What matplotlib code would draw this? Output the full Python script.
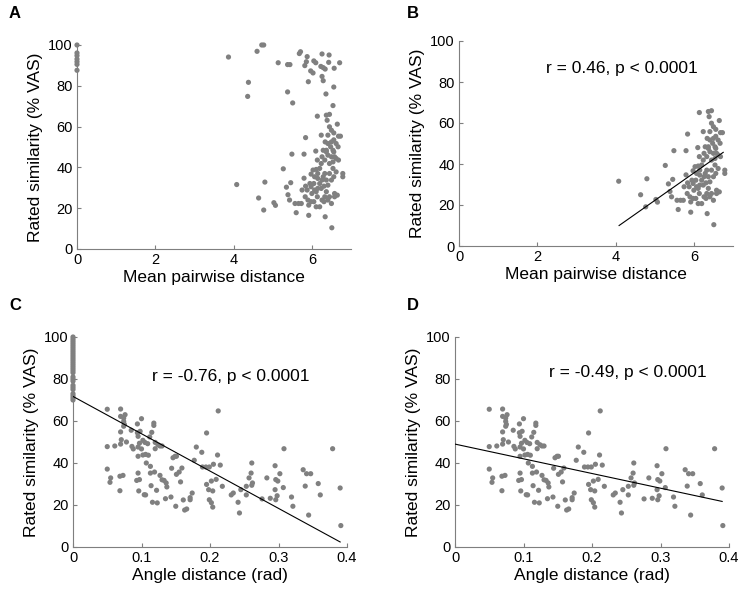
import matplotlib.pyplot as plt
import numpy as np

plt.rcParams['font.family'] = ['Liberation Sans', 'DejaVu Sans']

# ---- panel B data (mean pairwise distance vs rating) ----
dist_x = [4.08, 4.64, 4.80, 4.77, 5.03, 5.07, 5.27, 5.35, 5.49, 5.46, 5.39, 5.43,
          5.60, 5.57, 5.66, 5.73, 5.80, 5.84, 5.80, 5.75, 5.83, 5.92, 5.92, 5.98,
          5.88, 5.98, 6.00, 6.07, 6.05, 6.10, 6.14, 6.11, 6.15, 6.20, 6.14, 6.20,
          6.26, 6.24, 6.34, 6.37, 6.45, 6.39, 6.45, 6.50, 6.56, 6.65, 6.68, 6.73,
          6.41, 6.48, 6.37, 6.41, 6.50, 6.56, 6.67, 6.62, 6.54, 6.68, 6.79, 6.79,
          6.45, 6.33, 6.29, 6.37, 6.50, 6.41, 6.31, 6.37, 6.33, 6.45, 6.58, 6.56,
          6.58, 6.34, 6.51, 6.65, 6.24, 6.14, 6.03, 6.07, 6.20, 6.26, 6.33, 6.29,
          6.37, 6.54, 6.58, 6.62, 5.84, 5.90, 5.98, 6.11, 6.50, 6.41, 6.05, 5.95,
          6.15, 6.24, 6.31, 6.56, 6.50, 6.41, 6.62, 6.54, 6.45, 6.15, 6.26, 6.11]
dist_y = [31.6, 25.0, 32.8, 19.1, 22.7, 21.4, 39.3, 30.3, 46.5, 32.5, 26.6, 24.0,
          17.8, 22.3, 22.3, 22.3, 46.5, 54.6, 34.7, 28.9, 25.6, 21.5, 16.5, 36.7,
          28.9, 30.5, 27.2, 28.9, 23.2, 48.0, 65.1, 39.0, 34.6, 32.1, 25.6, 20.7,
          24.0, 55.8, 52.5, 65.6, 66.0, 63.1, 59.9, 58.2, 56.9, 61.2, 55.3, 55.3,
          51.7, 50.1, 47.6, 46.0, 45.2, 47.6, 50.1, 44.4, 39.5, 43.6, 37.0, 35.4,
          37.0, 37.0, 35.4, 33.8, 33.8, 31.3, 30.8, 28.1, 25.6, 25.6, 25.6, 35.4,
          27.2, 15.8, 10.4, 26.4, 41.9, 43.6, 38.7, 35.4, 39.5, 45.2, 43.6, 48.4,
          48.4, 48.4, 45.2, 37.8, 30.8, 24.0, 23.2, 20.7, 22.3, 24.0, 32.1, 32.1,
          29.7, 29.7, 23.2, 53.5, 52.5, 55.8, 51.7, 42.7, 41.9, 37.0, 33.8, 28.1]

# extra points shown only in panel A
high_x = [3.87, 4.38, 4.36, 4.60, 4.72, 4.77, 5.14, 5.38, 5.44, 5.38, 5.51, 5.68,
          5.71, 5.88, 5.82, 5.86, 6.05, 6.10, 5.97, 6.03, 5.91, 6.26, 6.44, 6.23,
          6.29, 6.34, 6.26, 6.29, 6.43, 6.57, 6.71, 6.56, 6.36, 6.54]
high_y = [94.1, 81.7, 74.8, 96.9, 100.0, 100.0, 91.3, 90.4, 90.4, 77.0, 71.6, 95.8,
          96.7, 94.3, 89.9, 91.8, 92.2, 91.3, 87.3, 86.3, 82.0, 95.6, 95.1, 89.5,
          88.9, 88.2, 84.6, 82.5, 91.5, 88.6, 91.3, 79.4, 76.0, 70.3]
zero_a_y = [100.0, 96.1, 94.8, 93.1, 91.8, 90.5, 87.6]

# ---- panel D data (angle distance vs rating) ----
ang_x = [0.050, 0.0695, 0.050, 0.050, 0.055, 0.054, 0.061, 0.0685, 0.073, 0.0685,
         0.0695, 0.074, 0.076, 0.074, 0.075, 0.074, 0.0695, 0.0705, 0.0695, 0.078,
         0.085, 0.086, 0.088, 0.094, 0.100, 0.094, 0.098, 0.095, 0.097, 0.102,
         0.105, 0.095, 0.100, 0.095, 0.102, 0.106, 0.109, 0.112, 0.115, 0.118,
         0.118, 0.120, 0.124, 0.127, 0.130, 0.120, 0.110, 0.107, 0.113, 0.095,
         0.097, 0.093, 0.096, 0.104, 0.106, 0.113, 0.119, 0.114, 0.116, 0.122,
         0.123, 0.127, 0.130, 0.133, 0.136, 0.137, 0.135, 0.143, 0.144, 0.146,
         0.149, 0.151, 0.151, 0.155, 0.157, 0.159, 0.150, 0.161, 0.163, 0.166,
         0.171, 0.171, 0.174, 0.177, 0.180, 0.188, 0.189, 0.194, 0.195, 0.199,
         0.195, 0.198, 0.199, 0.202, 0.204, 0.204, 0.202, 0.205, 0.209, 0.211,
         0.212, 0.215, 0.218, 0.231, 0.234, 0.241, 0.243, 0.245, 0.253, 0.253,
         0.257, 0.261, 0.260, 0.261, 0.262, 0.276, 0.283, 0.288, 0.295, 0.295,
         0.296, 0.299, 0.296, 0.298, 0.302, 0.308, 0.307, 0.319, 0.321, 0.336,
         0.339, 0.341, 0.347, 0.344, 0.358, 0.361, 0.379, 0.390, 0.391]
ang_y = [65.6, 65.7, 47.8, 37.1, 32.9, 30.8, 48.1, 33.7, 34.1, 26.8,
         62.2, 61.4, 63.0, 59.8, 58.4, 57.5, 54.8, 51.1, 49.0, 50.0,
         55.6, 47.9, 46.7, 58.6, 61.1, 54.4, 55.1, 52.7, 49.4, 50.8,
         49.8, 47.6, 46.7, 43.2, 43.8, 44.1, 49.2, 52.4, 54.6, 59.0,
         57.9, 49.8, 48.7, 48.1, 48.1, 46.8, 43.7, 40.0, 38.4, 35.2,
         32.1, 31.7, 26.7, 24.9, 24.8, 35.2, 35.7, 29.2, 21.3, 27.0,
         21.0, 34.1, 32.0, 31.7, 30.5, 28.6, 23.0, 23.8, 37.5, 42.5,
         43.2, 43.2, 34.6, 35.7, 31.0, 37.6, 19.4, 22.4, 17.6, 18.1,
         22.5, 23.5, 25.7, 41.3, 47.6, 45.1, 38.1, 38.1, 54.3, 38.1,
         29.8, 27.3, 22.5, 21.1, 19.0, 26.7, 31.4, 39.4, 32.2, 43.8,
         64.8, 39.0, 28.9, 24.8, 25.7, 21.3, 16.2, 27.3, 28.9, 24.8,
         32.9, 40.0, 35.2, 29.4, 30.5, 22.9, 32.9, 23.2, 38.7, 27.3,
         32.1, 31.4, 22.5, 24.4, 34.9, 46.8, 28.3, 23.8, 19.4, 36.8,
         29.0, 34.9, 34.9, 15.2, 30.2, 24.8, 46.8, 28.1, 10.2]
# identical stimuli (angle distance 0) shown only in panel C
zero_c_y = [100, 99, 98, 97, 96, 95, 94, 93, 92, 91, 90, 89, 88, 87, 86, 85,
            84, 83, 81, 80, 79, 77, 76, 75, 73, 72, 71, 70]

# regression lines: (x start, x end, intercept, slope)
fit_b = (4.09, 6.75, -44.9, 13.42)
fit_c = (0.0, 0.39, 71.7, -177.7)
fit_d = (0.0, 0.39, 49.0, -70.0)

texts = ["r = 0.46, p < 0.0001", "r = -0.76, p < 0.0001", "r = -0.49, p < 0.0001"]

GREY = '#808080'
SPINE = '#7f7f7f'

fig = plt.figure(figsize=(7.43, 5.92), dpi=100)
W, H = 743, 592


def make_ax(left, right, top, bottom):
    ax = fig.add_axes([left / W, 1 - bottom / H, (right - left) / W, (bottom - top) / H])
    for s in ['top', 'right']:
        ax.spines[s].set_visible(False)
    for s in ['left', 'bottom']:
        ax.spines[s].set_color(SPINE)
    ax.tick_params(direction='in', length=3, color=SPINE, labelsize=10.5, pad=3)
    ax.set_ylim(0, 100)
    ax.set_yticks([0, 20, 40, 60, 80, 100])
    ax.set_ylabel('Rated similarity (% VAS)', fontsize=12.5, labelpad=4)
    return ax


def scat(ax, x, y):
    ax.scatter(x, y, s=14, color=GREY, edgecolors='none', clip_on=False, zorder=3)


def fitline(ax, f):
    x0, x1, b, m = f
    xs = np.array([x0, x1])
    ax.plot(xs, b + m * xs, color='black', lw=0.8, zorder=4)


# panel A
axA = make_ax(77, 351, 45, 249)
scat(axA, dist_x + high_x + [0] * len(zero_a_y), dist_y + high_y + zero_a_y)
axA.set_xlim(0, 7)
axA.set_xticks([0, 2, 4, 6])
axA.set_xlabel('Mean pairwise distance', fontsize=12.5, labelpad=2)

# panel B
axB = make_ax(459, 733, 41, 246)
scat(axB, dist_x, dist_y)
fitline(axB, fit_b)
axB.set_xlim(0, 7)
axB.set_xticks([0, 2, 4, 6])
axB.set_xlabel('Mean pairwise distance', fontsize=12.5, labelpad=2)
axB.text(4.15, 86.8, texts[0], fontsize=12.5, ha='center', va='center')

# panel C
axC = make_ax(73, 347, 337, 547)
scat(axC, ang_x + [0] * len(zero_c_y), ang_y + zero_c_y)
fitline(axC, fit_c)
axC.set_xlim(0, 0.4)
axC.set_xticks([0, 0.1, 0.2, 0.3, 0.4])
axC.set_xticklabels(['0', '0.1', '0.2', '0.3', '0.4'])
axC.set_xlabel('Angle distance (rad)', fontsize=12.5, labelpad=2)
axC.text(0.231, 81.4, texts[1], fontsize=12.5, ha='center', va='center')

# panel D
axD = make_ax(455, 729, 337, 547)
scat(axD, ang_x, ang_y)
fitline(axD, fit_d)
axD.set_xlim(0, 0.4)
axD.set_xticks([0, 0.1, 0.2, 0.3, 0.4])
axD.set_xticklabels(['0', '0.1', '0.2', '0.3', '0.4'])
axD.set_xlabel('Angle distance (rad)', fontsize=12.5, labelpad=2)
axD.text(0.253, 82.9, texts[2], fontsize=12.5, ha='center', va='center')

for lab, (px, py) in zip('ABCD', [(9, 14), (407, 14), (9, 305), (407, 305)]):
    fig.text(px / W, 1 - py / H, lab, fontsize=12, fontweight='bold', ha='left', va='center')

fig.savefig('out.png', dpi=100)
